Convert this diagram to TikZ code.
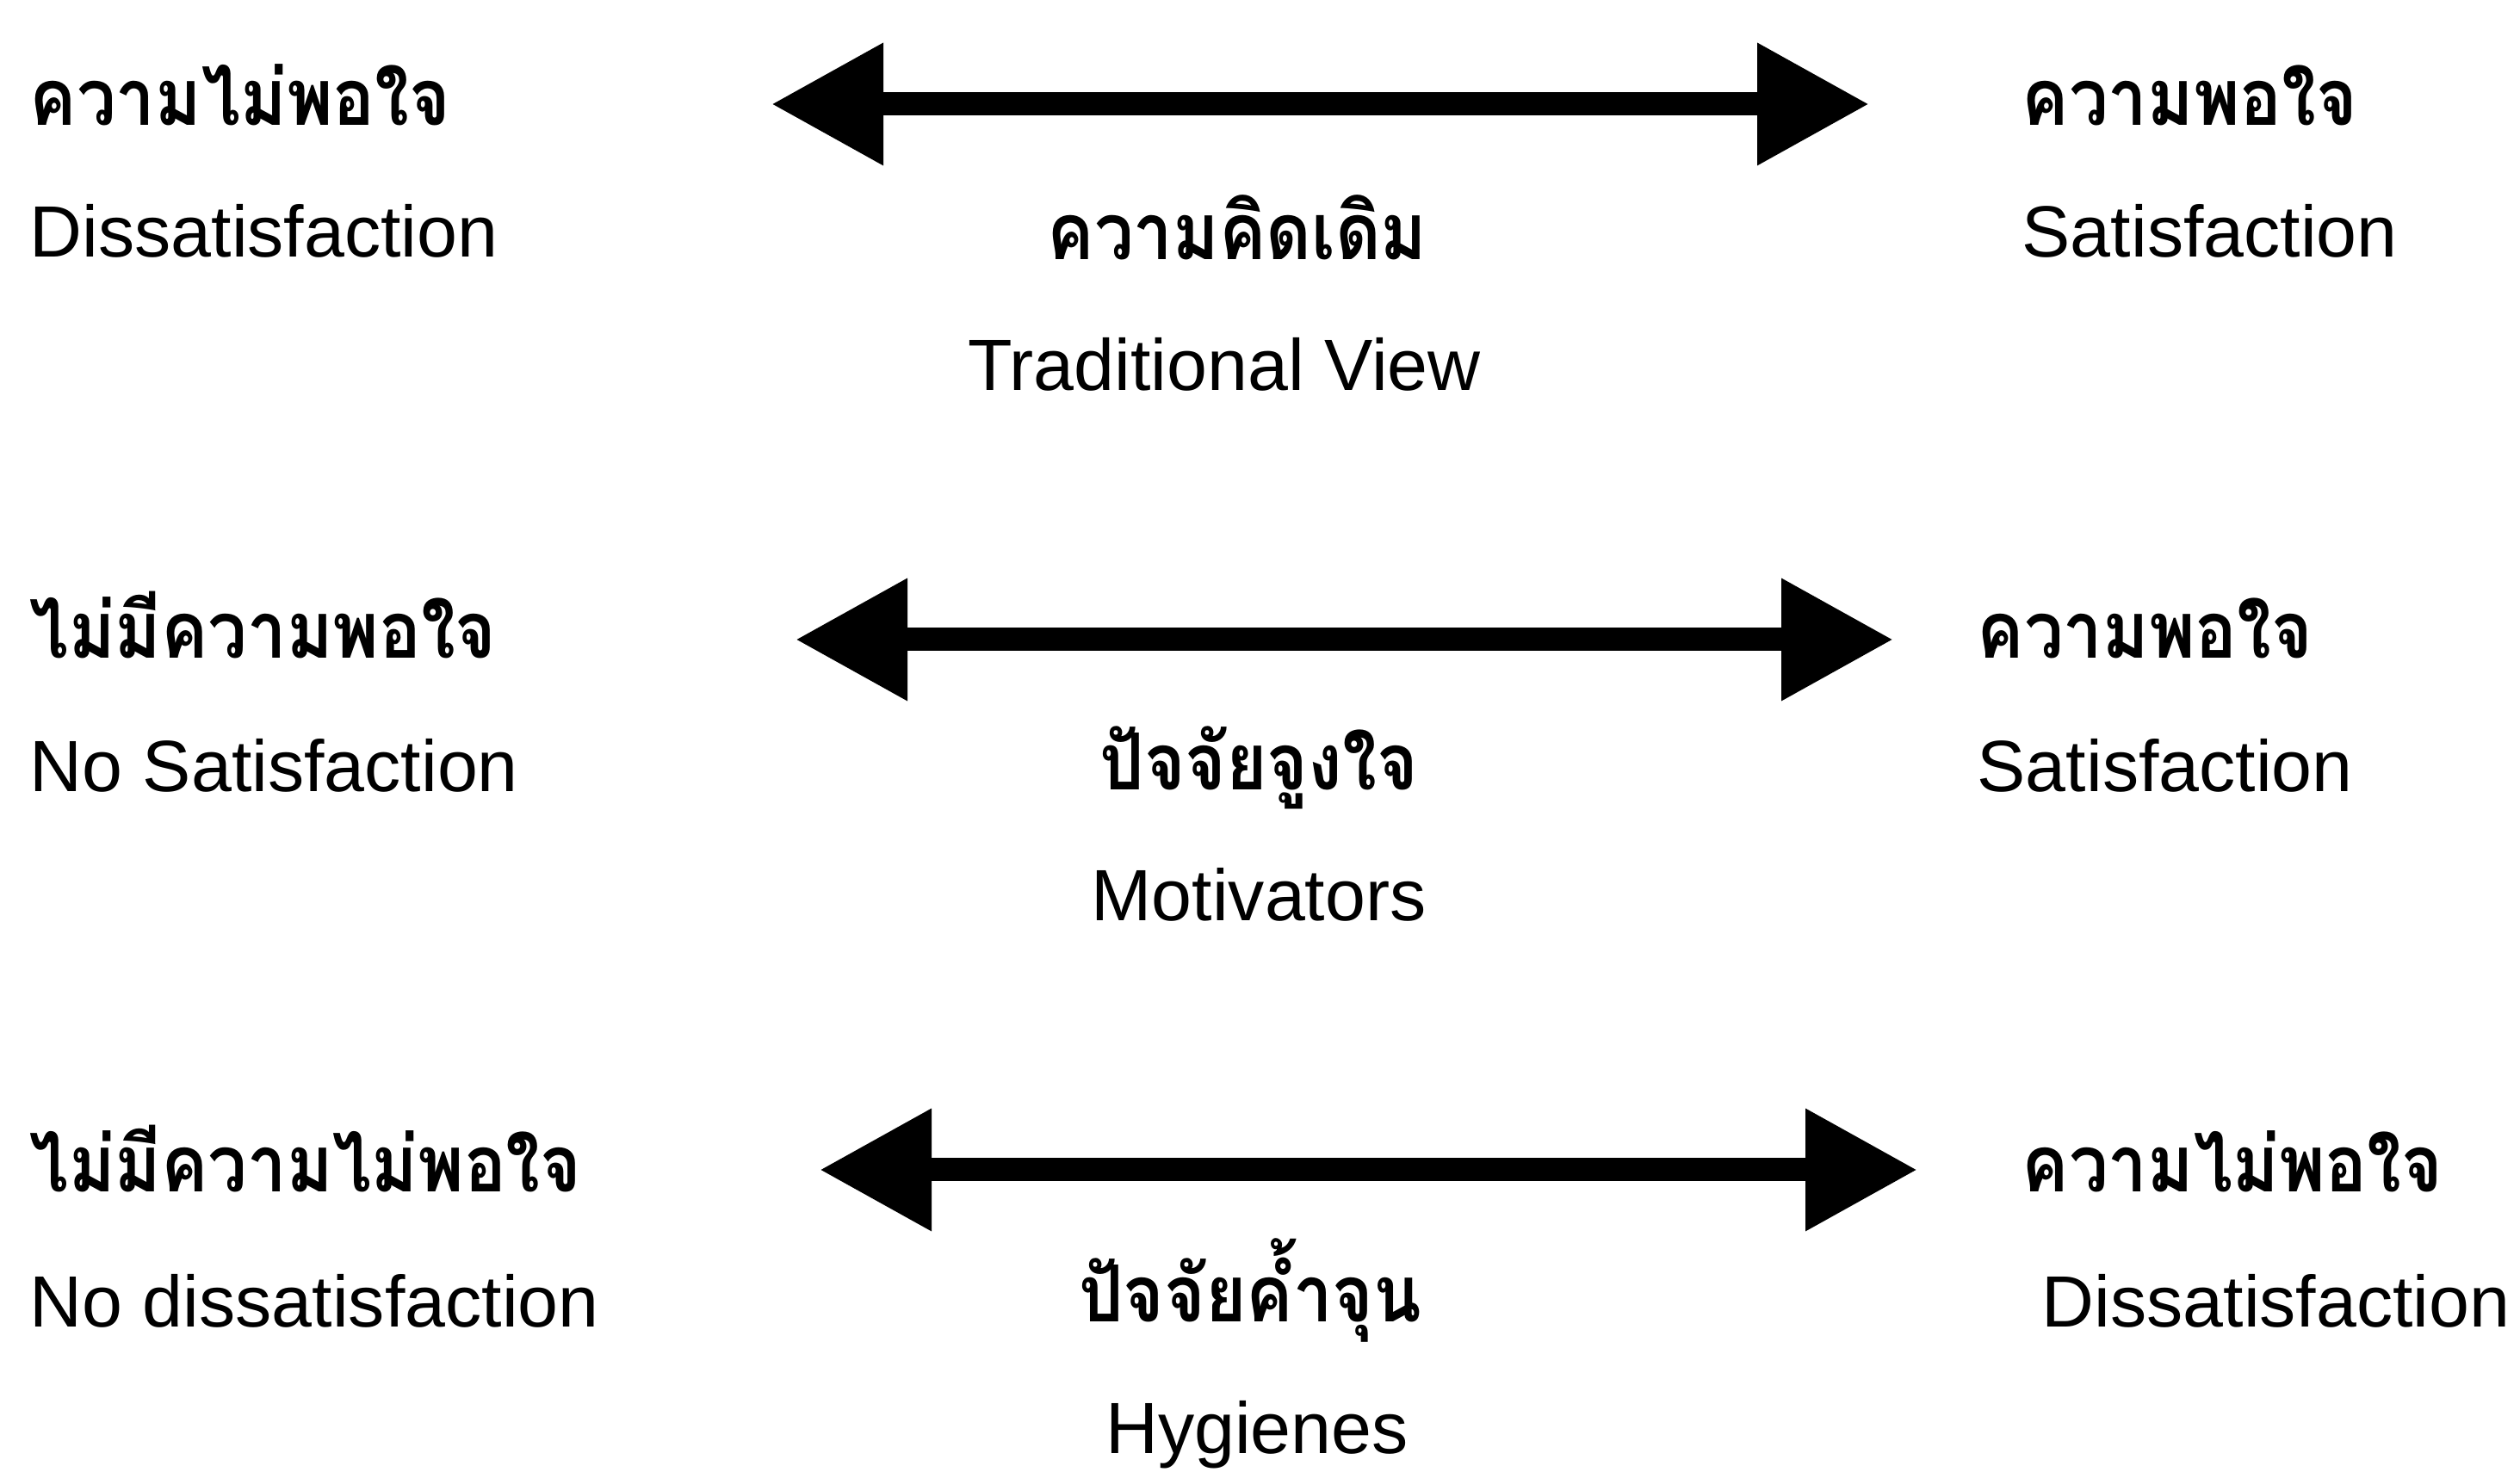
\documentclass[tikz,border=0pt]{standalone}
\usepackage{fontspec}
\setmainfont{Liberation Sans}
\newfontfamily\thaifont[Script=Thai,FakeStretch=0.89]{Loma Bold}
\usetikzlibrary{arrows.meta}
\tikzset{
  engtext/.style={inner sep=0pt, font=\fontsize{24}{28}\selectfont},
  thaitext/.style={inner sep=0pt, font=\thaifont\fontsize{26}{30}\selectfont},
  twoway/.style={line width=0.27cm, {Triangle[length=1.3cm,width=1.35cm]}-{Triangle[length=1.3cm,width=1.35cm]}}
}
\begin{document}
\begin{tikzpicture}
\useasboundingbox (0,0) rectangle (29.27,17.10);
% traditional view
\node[thaitext, anchor=base west] (lth1) at (0.34,15.64){ความไม่พอใจ};
\node[engtext, anchor=base west] (len1) at (0.34,14.11){Dissatisfaction};
\coordinate (al1) at (8.96,15.89);
\coordinate (ar1) at (21.71,15.89);
\draw[twoway](al1) -- (ar1);
\node[thaitext, anchor=base] (mth1) at (14.37,14.08){ความคิดเดิม};
\node[engtext, anchor=base] (men1) at (14.22,12.56){Traditional View};
\node[thaitext, anchor=base west] (rth1) at (23.48,15.64){ความพอใจ};
\node[engtext, anchor=base west] (ren1) at (23.48,14.11){Satisfaction};
% motivators
\node[thaitext, anchor=base west] (lth2) at (0.34,9.45){ไม่มีความพอใจ};
\node[engtext, anchor=base west] (len2) at (0.34,7.90){No Satisfaction};
\coordinate (al2) at (9.24,9.67);
\coordinate (ar2) at (21.99,9.67);
\draw[twoway](al2) -- (ar2);
\node[thaitext, anchor=base] (mth2) at (14.62,7.92){ปัจจัยจูงใจ};
\node[engtext, anchor=base] (men2) at (14.62,6.40){Motivators};
\node[thaitext, anchor=base west] (rth2) at (22.96,9.45){ความพอใจ};
\node[engtext, anchor=base west] (ren2) at (22.96,7.90){Satisfaction};
% hygienes
\node[thaitext, anchor=base west] (lth3) at (0.34,3.25){ไม่มีความไม่พอใจ};
\node[engtext, anchor=base west] (len3) at (0.34,1.68){No dissatisfaction};
\coordinate (al3) at (9.52,3.51);
\coordinate (ar3) at (22.27,3.51);
\draw[twoway](al3) -- (ar3);
\node[thaitext, anchor=base] (mth3) at (14.52,1.74){ปัจจัยค้ำจุน};
\node[engtext, anchor=base] (men3) at (14.60,0.21){Hygienes};
\node[thaitext, anchor=base west] (rth3) at (23.48,3.25){ความไม่พอใจ};
\node[engtext, anchor=base west] (ren3) at (23.71,1.68){Dissatisfaction};
\end{tikzpicture}
\end{document}
